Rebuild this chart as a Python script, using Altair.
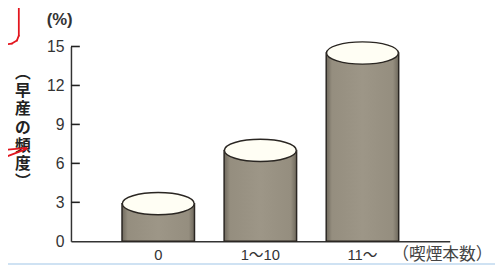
import altair as alt
import pandas as pd

categories = ["0", "1〜10", "11〜"]
values = [2.9, 7.0, 14.5]
y_ticks = [0, 3, 6, 9, 12, 15]

df = pd.DataFrame({"cat": categories, "val": values})
tick_df = pd.DataFrame({"tickval": y_ticks[1:]})

W, H = 385, 198
num_font = "Liberation Sans, Noto Sans CJK JP"
cjk_font = "Noto Sans CJK JP"

x_scale = alt.Scale(paddingInner=0.29, paddingOuter=0.5)
x_axis = alt.Axis(
    title="（喫煙本数）",
    titleX=326, titleY=14, titleAlign="left", titleBaseline="middle",
    titleFont=cjk_font, titleFontSize=17, titleFontWeight="normal", titleColor="#444",
    labelAngle=0, labelFont=num_font, labelFontSize=15, labelColor="#333",
    labelPadding=7, ticks=False, domainColor="#333", domainWidth=1.5,
)
y_scale = alt.Scale(domain=[0, 15], nice=False)
y_axis = alt.Axis(
    title="(%)", titleAngle=0, titleX=-12, titleY=-27, titleAlign="center",
    titleBaseline="middle", titleFont=num_font, titleFontSize=17, titleFontWeight="bold",
    titleColor="#333",
    values=y_ticks, ticks=False, labelFont=num_font, labelFontSize=16,
    labelColor="#333", labelPadding=7, labelOverlap=False, labelFlush=False,
    labelBound=False, domainColor="#333", domainWidth=1.5, grid=False,
)

gradient = alt.Gradient(
    gradient="linear", x1=0, x2=1, y1=0, y2=0,
    stops=[
        alt.GradientStop(color="#6f695d", offset=0),
        alt.GradientStop(color="#958e7f", offset=0.08),
        alt.GradientStop(color="#9d9687", offset=0.5),
        alt.GradientStop(color="#958e7f", offset=0.92),
        alt.GradientStop(color="#6f695d", offset=1),
    ],
)

body = alt.Chart(df).mark_bar(fill=gradient, stroke="#2a2622", strokeWidth=1.5).encode(
    x=alt.X("cat:N", sort=categories, scale=x_scale, axis=x_axis),
    y=alt.Y("val:Q", scale=y_scale, axis=y_axis),
)

ellipse_path = "M -1 0 A 1 0.31 0 1 0 1 0 A 1 0.31 0 1 0 -1 0 Z"
top = alt.Chart(df).mark_point(
    shape=ellipse_path, size=73 * 73, filled=True, fill="#fffef4",
    stroke="#2a2622", strokeWidth=1.4, opacity=1,
).encode(
    x=alt.X("cat:N", sort=categories, scale=x_scale, axis=x_axis),
    y=alt.Y("val:Q", scale=y_scale, axis=y_axis),
)

ticks = alt.Chart(tick_df).mark_rule(color="#222", strokeWidth=1.6, opacity=1).encode(
    x=alt.value(0), x2=alt.value(9),
    y=alt.Y("tickval:Q", scale=y_scale, axis=y_axis),
)

vtitle = alt.Chart(pd.DataFrame({"s": ["︵\n早\n産\nの\n頻\n度\n︶"]})).mark_text(
    font=cjk_font, fontSize=16, fontWeight="bold", color="#222",
    lineBreak="\n", lineHeight=18.5, align="center", baseline="middle",
).encode(
    text="s:N", x=alt.value(-49), y=alt.value(27),
)

# red hand-drawn annotation strokes (overlay on the scanned figure)
red_segments = [
    (-53, -40, -53, -11),
    (-53, -11, -55, -6),
    (-55, -6, -60, -3),
    (-60, -3, -66, -2),
    (-66, 105, -45, 103),
    (-66, 112, -45, 104),
]
annot = [
    alt.Chart(pd.DataFrame({"k": [0]})).mark_rule(color="#e3161e", strokeWidth=1.8, strokeCap="round").encode(
        x=alt.value(a), y=alt.value(b), x2=alt.value(c), y2=alt.value(d)
    )
    for (a, b, c, d) in red_segments
]
blue = alt.Chart(pd.DataFrame({"k": [0]})).mark_rule(color="#cfe2f3", strokeWidth=2).encode(
    x=alt.value(-64), x2=alt.value(431), y=alt.value(221)
)

chart = alt.layer(body, top, vtitle, *annot, blue, ticks).properties(
    width=W, height=H,
    background="white",
    padding={"left": 64, "top": 37, "right": 46, "bottom": 24},
    autosize=alt.AutoSizeParams(type="none"),
).configure_view(strokeWidth=0, stroke="transparent")

chart.save("out.html", embed_options={"renderer": "svg", "actions": False})
